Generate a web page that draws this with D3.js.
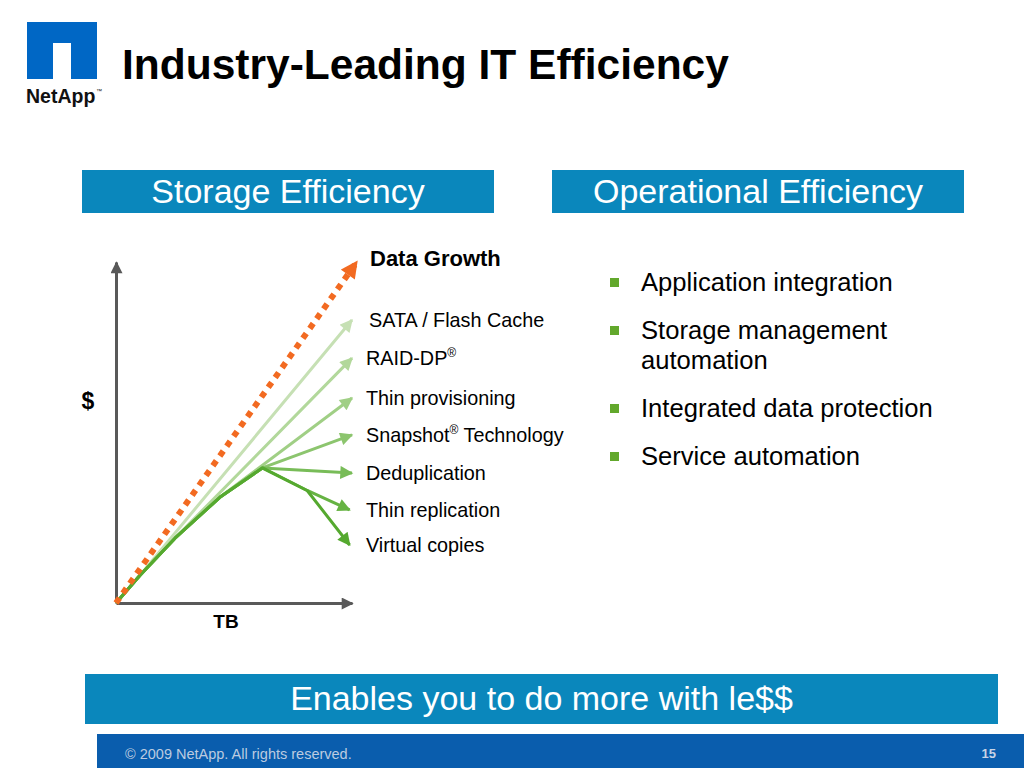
<!DOCTYPE html>
<html>
<head>
<meta charset="utf-8">
<script src="https://cdn.jsdelivr.net/npm/d3@7"></script>
<style>
body { margin: 0; background: #fff; }
svg { display: block; font-family: "Liberation Sans", Arial, Helvetica, sans-serif; }
</style>
</head>
<body>
<script>
// chart values (abstract units: TB on x, $ on y, both 0..100)
let growthPoints = [[0, 0], [102, 100]];
let trunkPoints = [[0, 0], [10, 8], [25, 19], [44, 31], [62, 39.6]];
let branchLabels = ["SATA / Flash Cache", "RAID-DP®", "Thin provisioning", "Snapshot® Technology",
                    "Deduplication", "Thin replication", "Virtual copies"];
let branchPoints = [
    [[10, 8], [100, 83]],
    [[25, 19], [100, 71.8]],
    [[44, 31], [100, 60.1]],
    [[62, 39.6], [100, 49.3]],
    [[62, 39.6], [100, 38.1]],
    [[62, 39.6], [81, 33], [99, 27.3]],
    [[62, 39.6], [81, 33], [99, 17]]
];
let branchColors = ["#c6e0b4", "#b2d89b", "#a0cf85", "#8cc56e", "#78bc58", "#66b343", "#55a92f"];
let bulletItems = [["Application integration"], ["Storage management", "automation"],
                   ["Integrated data protection"], ["Service automation"]];

let width = 1024;
let height = 768;
let svg = d3.select("body").append("svg").attr("width", width).attr("height", height);
let defs = svg.append("defs");

function addMarker(id, color, len, wid){
    defs.append("marker")
        .attr("id", id)
        .attr("viewBox", "0 0 10 10")
        .attr("refX", 9)
        .attr("refY", 5)
        .attr("markerUnits", "userSpaceOnUse")
        .attr("markerWidth", len)
        .attr("markerHeight", wid)
        .attr("orient", "auto")
        .append("path")
            .attr("d", "M0,0L10,5L0,10Z")
            .attr("fill", color);
}

// ---- header ----
let logo = svg.append("g").attr("class", "logo");
logo.append("rect").attr("x", 27).attr("y", 22).attr("width", 70).attr("height", 57).attr("fill", "#0067c5");
logo.append("rect").attr("x", 53).attr("y", 43).attr("width", 18).attr("height", 36).attr("fill", "#fff");
logo.append("text").attr("x", 26).attr("y", 103)
    .attr("font-size", 19.5).attr("font-weight", "bold").attr("fill", "#111").text("NetApp");
logo.append("text").attr("x", 96).attr("y", 93)
    .attr("font-size", 6).attr("fill", "#111").text("™");

svg.append("text").attr("x", 122).attr("y", 79)
    .attr("font-size", 42.5).attr("font-weight", "bold").attr("fill", "#000")
    .text("Industry-Leading IT Efficiency");

// ---- section boxes ----
let boxes = [
    {x: 82, y: 170, w: 412, h: 43, label: "Storage Efficiency"},
    {x: 552, y: 170, w: 412, h: 43, label: "Operational Efficiency"},
    {x: 85, y: 674, w: 913, h: 50, label: "Enables you to do more with le$$"}
];
let boxG = svg.selectAll("g.box").data(boxes).enter().append("g").attr("class", "box");
boxG.append("rect")
    .attr("x", function(d){ return d.x; })
    .attr("y", function(d){ return d.y; })
    .attr("width", function(d){ return d.w; })
    .attr("height", function(d){ return d.h; })
    .attr("fill", "#0a87bc");
boxG.append("text")
    .attr("x", function(d){ return d.x + d.w / 2; })
    .attr("y", function(d){ return d.y + d.h / 2 + 11; })
    .attr("text-anchor", "middle")
    .attr("font-size", 34)
    .attr("fill", "#fff")
    .text(function(d){ return d.label; });

// ---- diagram ----
let x = d3.scaleLinear().domain([0, 100]).range([116, 352]);
let y = d3.scaleLinear().domain([0, 100]).range([603, 262]);
let line = d3.line().x(function(d){ return x(d[0]); }).y(function(d){ return y(d[1]); });

addMarker("arrowAxis", "#595959", 13, 12);
addMarker("arrowGrowth", "#f26a21", 18, 17);
branchColors.forEach(function(c, i){ addMarker("arrowB" + i, c, 15, 13); });

let chartGroup = svg.append("g").attr("class", "chartGroup");

let xAxis = chartGroup.append("g")
    .attr("transform", "translate(0," + y(0) + ")")
    .call(d3.axisBottom(x).tickValues([]).tickSizeOuter(0));
let yAxis = chartGroup.append("g")
    .attr("transform", "translate(" + x(0) + ",0)")
    .call(d3.axisLeft(y).tickValues([]).tickSizeOuter(0));
[xAxis, yAxis].forEach(function(a){
    a.select(".domain")
        .attr("stroke", "#595959")
        .attr("stroke-width", 3)
        .attr("marker-end", "url(#arrowAxis)");
});

// branches drawn lightest first, each follows the trunk up to its start
chartGroup.selectAll("path.branch")
    .data(branchPoints)
    .enter()
    .append("path")
        .attr("class", "branch")
        .attr("fill", "none")
        .attr("stroke", function(d, i){ return branchColors[i]; })
        .attr("stroke-width", 3)
        .attr("stroke-linejoin", "round")
        .attr("marker-end", function(d, i){ return "url(#arrowB" + i + ")"; })
        .attr("d", function(d){
            let pre = trunkPoints.filter(function(p){ return p[0] < d[0][0]; });
            return line(pre.concat(d));
        });

chartGroup.append("path")
    .attr("fill", "none")
    .attr("stroke", "#f26a21")
    .attr("stroke-width", 6)
    .attr("stroke-dasharray", "6,6")
    .attr("marker-end", "url(#arrowGrowth)")
    .attr("d", line(growthPoints));

// labels
chartGroup.append("text")
    .attr("x", x(100) + 18).attr("y", y(101)).attr("dy", "0.35em")
    .attr("font-size", 22).attr("font-weight", "bold").attr("fill", "#000")
    .text("Data Growth");

let labels = chartGroup.selectAll("text.blabel")
    .data(branchLabels)
    .enter()
    .append("text")
        .attr("class", "blabel")
        .attr("x", function(d, i){ return x(100) + (i === 0 ? 17 : 14); })
        .attr("y", function(d, i){
            let pts = branchPoints[i];
            return y(pts[pts.length - 1][1]) + 7;
        })
        .attr("font-size", 19.8)
        .attr("fill", "#000");
labels.each(function(d){
    let t = d3.select(this);
    let parts = d.split("®");
    parts.forEach(function(p, j){
        let s = t.append("tspan").text(p);
        if(j > 0) s.attr("dy", 8);
        if(j < parts.length - 1){
            t.append("tspan").attr("font-size", 12).attr("dy", -8).text("®");
        }
    });
});

chartGroup.append("text").attr("x", 88).attr("y", 409)
    .attr("text-anchor", "middle").attr("font-size", 23).attr("font-weight", "bold").text("$");
chartGroup.append("text").attr("x", 226).attr("y", 628)
    .attr("text-anchor", "middle").attr("font-size", 19).attr("font-weight", "bold").text("TB");

// ---- bullets ----
let bulletG = svg.append("g").attr("class", "bullets");
let by = [291, 339, 417, 465];
bulletItems.forEach(function(item, i){
    bulletG.append("rect")
        .attr("x", 610).attr("y", by[i] - 13).attr("width", 9).attr("height", 9)
        .attr("fill", "#62a82c");
    item.forEach(function(ln, j){
        bulletG.append("text")
            .attr("x", 641).attr("y", by[i] + j * 30)
            .attr("font-size", 25.6).attr("fill", "#000")
            .text(ln);
    });
});

// ---- footer ----
svg.append("rect").attr("x", 97).attr("y", 734).attr("width", 927).attr("height", 34).attr("fill", "#0a5dad");
svg.append("text").attr("x", 125).attr("y", 759)
    .attr("font-size", 14.5).attr("fill", "#bccbe0")
    .text("© 2009 NetApp. All rights reserved.");
svg.append("text").attr("x", 996).attr("y", 758)
    .attr("text-anchor", "end").attr("font-size", 13).attr("font-weight", "bold").attr("fill", "#c8d4e6")
    .text("15");
</script>
</body>
</html>
